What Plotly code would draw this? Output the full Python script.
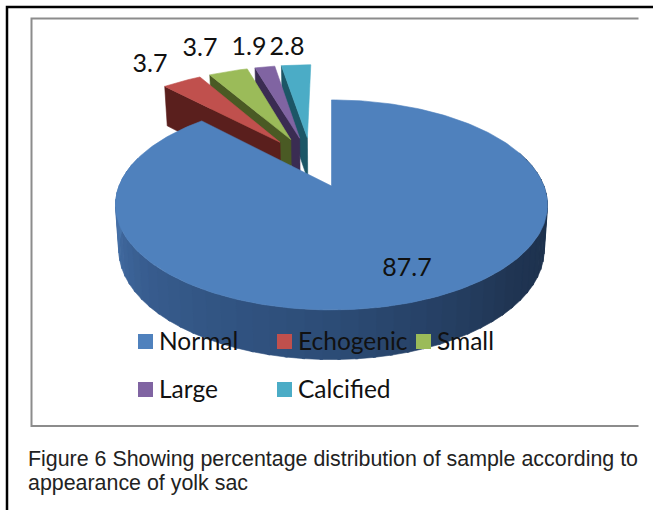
import numpy as np
import plotly.graph_objects as go

categories = ["Normal", "Echogenic", "Small", "Large", "Calcified"]
values = [87.7, 3.7, 3.7, 1.9, 2.8]
top_colors = ["#4F81BD", "#C0504D", "#9BBB59", "#8064A2", "#4BACC6"]
side_colors = ["#2F5080", "#5A1F1D", "#4A5A24", "#3A2C52", "#1C5666"]

caption_lines = ["Figure 6 Showing percentage distribution of sample according to",
                 "appearance of yolk sac"]

CX, CY = 331.5, 186.0   # pixel of the main slice's apex
RX, KY, P = 212.5, 101.6, 0.18
EXPLODE = 0.27


def project(X, Y, drop=False):
    X, Y = np.asarray(X, float), np.asarray(Y, float)
    s = 1 / (1 - P * Y)
    x = CX + RX * X * s
    y = CY + KY * Y * s
    if drop:
        x = CX + (x - CX) * 0.985
        y = y + 18 + 26 * s
    return x, y


def poly(fig, x, y, color, name):
    fig.add_trace(go.Scatter(x=list(x), y=list(y), mode="lines", fill="toself",
                             fillcolor=color, line=dict(color=color, width=0.6),
                             hoverinfo="skip", name=name, showlegend=False))


total = sum(values)
spans = [v / total * 2 * np.pi for v in values]
starts = np.concatenate([[0], np.cumsum(spans)[:-1]])
mids = starts + np.array(spans) / 2

# the main slice's apex is the projection origin; the true pie centre sits behind it
ox, oy = -EXPLODE * np.sin(mids[0]), EXPLODE * np.cos(mids[0])

fig = go.Figure()

# small exploded slices, back (last) to front (first)
for i in range(len(values) - 1, 0, -1):
    tx = ox + EXPLODE * np.sin(mids[i])
    ty = oy - EXPLODE * np.cos(mids[i])
    a = np.linspace(starts[i], starts[i] + spans[i], 16)
    X = np.concatenate([[tx], tx + np.sin(a)])
    Y = np.concatenate([[ty], ty - np.cos(a)])
    # visible radial wall below the left edge
    ex, ey = np.array([tx, X[1]]), np.array([ty, Y[1]])
    x0, y0 = project(ex, ey)
    x1, y1 = project(ex, ey, drop=True)
    poly(fig, np.r_[x0, x1[::-1], x0[0]], np.r_[y0, y1[::-1], y0[0]], side_colors[i], categories[i])
    px, py = project(X, Y)
    poly(fig, np.r_[px, px[0]], np.r_[py, py[0]], top_colors[i], categories[i])

# outer wall of the big slice, shaded strip by strip
def wall_color(t):
    # t: clockwise angle in degrees from the top, 90 = right, 270 = left
    stops = np.array([90, 130, 180, 230, 270])
    r = np.interp(t, stops, [28, 31, 44, 55, 72])
    g = np.interp(t, stops, [48, 52, 76, 92, 116])
    b = np.interp(t, stops, [74, 82, 118, 142, 172])
    return f"rgb({r:.0f},{g:.0f},{b:.0f})"


edges = np.arange(70, 290, 4.0)
for a0, a1 in zip(edges[:-1], edges[1:]):
    a = np.radians([a0, a1 + 0.6])
    X, Y = np.sin(a), -np.cos(a)
    x0, y0 = project(X, Y)
    x1, y1 = project(X, Y, drop=True)
    poly(fig, np.r_[x0, x1[::-1], x0[0]], np.r_[y0, y1[::-1], y0[0]],
         wall_color((a0 + a1) / 2), categories[0])

# top of the big slice
a = np.linspace(0, spans[0], 240)
X = np.concatenate([[0], np.sin(a)])
Y = np.concatenate([[0], -np.cos(a)])
px, py = project(X, Y)
poly(fig, np.r_[px, px[0]], np.r_[py, py[0]], top_colors[0], categories[0])

# value labels
label_x = [407, 150, 200, 249, 287]
label_y = [270, 66, 50, 49, 49]
fig.add_trace(go.Scatter(x=label_x, y=label_y, mode="text", text=[f"{v:g}" for v in values],
                         textfont=dict(family="Lato", size=25, color="#111111"),
                         textposition="middle center", hoverinfo="skip", showlegend=False))

# legend rows
leg_x = [145.5, 284.5, 423.5, 145.5, 284.5]
leg_y = [341.5, 341.5, 341.5, 389.5, 389.5]
fig.add_trace(go.Scatter(x=leg_x, y=leg_y, mode="markers",
                         marker=dict(symbol="square", size=15, color=top_colors, line=dict(width=0)),
                         hoverinfo="skip", showlegend=False))
fig.add_trace(go.Scatter(x=[v + 13.5 for v in leg_x], y=[v + 2 for v in leg_y], mode="text", text=categories,
                         textposition="middle right",
                         textfont=dict(family="Lato", size=24.5, color="#111111"),
                         hoverinfo="skip", showlegend=False))

# caption
for line, yy in zip(caption_lines, [459, 483]):
    fig.add_annotation(x=26, y=yy, xref="x", yref="y", text=line, showarrow=False, xanchor="left",
                       yanchor="middle", font=dict(family="Liberation Sans", size=21.4, color="#222222"))

# frames
fig.add_shape(type="path", path="M 638.5 18.5 L 31.5 18.5 L 31.5 426 L 638.5 426",
              line=dict(color="#8C8C8C", width=2), layer="below")
fig.add_shape(type="path", path="M 7 510 L 7 7 L 653 7", line=dict(color="#000000", width=2.5), layer="above")

fig.update_layout(width=653, height=510, margin=dict(l=0, r=0, t=0, b=0), showlegend=False,
                  paper_bgcolor="white", plot_bgcolor="white",
                  xaxis=dict(range=[0, 653], visible=False, fixedrange=True),
                  yaxis=dict(range=[510, 0], visible=False, fixedrange=True))
fig.write_html("out.html", config={"displayModeBar": False},
               post_script="document.body.style.margin='0';document.documentElement.style.overflow='hidden';")
